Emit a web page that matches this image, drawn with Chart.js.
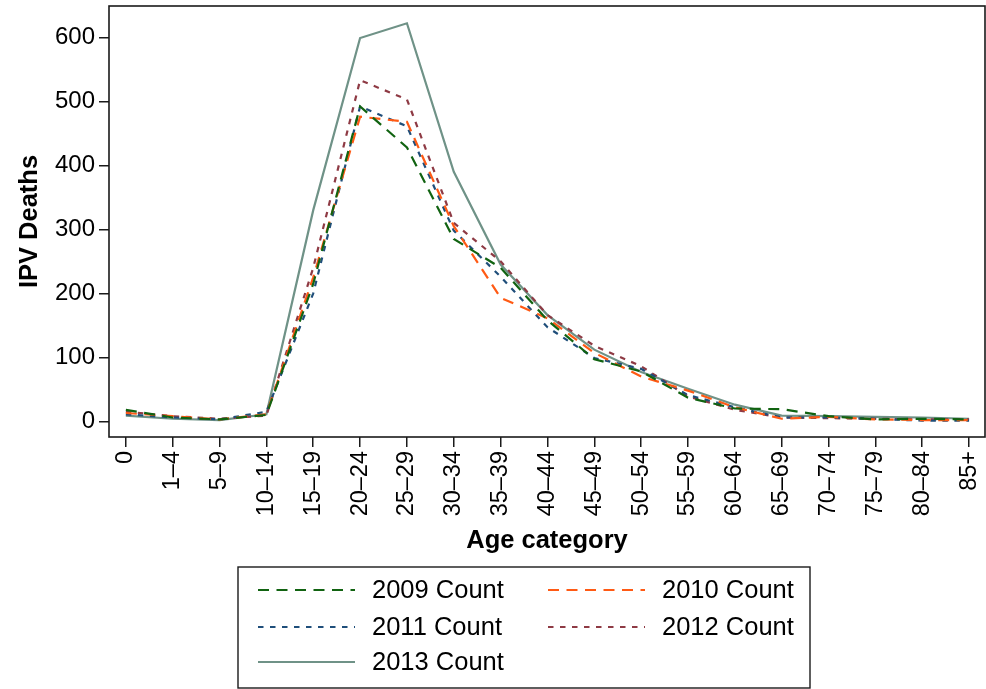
<!DOCTYPE html>
<html>
<head>
<meta charset="utf-8">
<title>IPV Deaths by Age category</title>
<script src="https://cdn.jsdelivr.net/npm/chart.js@4.4.1/dist/chart.umd.min.js"></script>
<style>
  html, body { margin: 0; padding: 0; background: #ffffff; }
  #wrap { width: 986px; height: 689px; position: relative; }
</style>
</head>
<body>
<div id="wrap"><canvas id="chart" width="986" height="689"></canvas></div>
<script>
// Age groups along the horizontal axis
const ageCategories = ["0", "1–4", "5–9", "10–14", "15–19", "20–24", "25–29", "30–34",
  "35–39", "40–44", "45–49", "50–54", "55–59", "60–64", "65–69", "70–74", "75–79", "80–84", "85+"];

// IPV deaths per age group, one array per year
const count2009 = [18, 6, 3, 10, 215, 492, 428, 285, 240, 158, 97, 78, 37, 20, 19, 8, 3, 4, 3];
const count2010 = [13, 8, 3, 11, 225, 476, 468, 305, 193, 161, 107, 70, 48, 22, 4, 7, 3, 2, 2];
const count2011 = [11, 6, 3, 15, 200, 492, 461, 298, 226, 147, 99, 82, 41, 22, 6, 6, 4, 1, 1];
const count2012 = [15, 8, 4, 9, 240, 533, 503, 310, 250, 166, 118, 86, 39, 18, 6, 5, 4, 3, 3];
const count2013 = [9, 4, 2, 11, 330, 599, 622, 390, 245, 166, 112, 77, 51, 26, 9, 8, 7, 6, 4];

// Value axis tick labels
const yTickValues = [0, 100, 200, 300, 400, 500, 600];

const FONT = "'Liberation Sans', Arial, Helvetica, sans-serif";

function series(label, values, color, dash) {
  return {
    label: label,
    data: values.map((v, i) => ({ x: i, y: v })),
    borderColor: color,
    backgroundColor: color,
    borderWidth: 2.2,
    borderDash: dash,
    pointRadius: 0,
    pointHoverRadius: 0,
    tension: 0,
    fill: false
  };
}

const datasets = [
  series("2009 Count", count2009, "#116311", [11, 7.5]),
  series("2010 Count", count2010, "#ff5a14", [11, 7.5]),
  series("2011 Count", count2011, "#1f4e7a", [5.5, 6.5]),
  series("2012 Count", count2012, "#8e3a44", [5.5, 6.5]),
  series("2013 Count", count2013, "#6f9287", [])
];

// Axis labels may overhang the plot edges without shrinking the plot
function noOverhang(scale) {
  scale.paddingLeft = 0;
  scale.paddingRight = 0;
  scale.paddingTop = 0;
  scale.paddingBottom = 0;
}

// Full box around the plotting region
const frame = {
  id: "frame",
  afterDatasetsDraw(chart) {
    const { ctx, chartArea: a } = chart;
    ctx.save();
    ctx.strokeStyle = "#1a1a1a";
    ctx.lineWidth = 1.6;
    ctx.strokeRect(a.left, a.top, a.right - a.left, a.bottom - a.top);
    ctx.restore();
  }
};

// Two-column boxed key below the axis title
const boxedKey = {
  id: "boxedKey",
  afterDraw(chart) {
    const { ctx } = chart;
    const box = { x: 238, y: 567, w: 572, h: 121 };
    const rows = [590, 627, 662];
    const cols = [{ line: 258, text: 372 }, { line: 548, text: 662 }];
    const lineLen = 97;
    ctx.save();
    ctx.strokeStyle = "#1a1a1a";
    ctx.lineWidth = 1.4;
    ctx.strokeRect(box.x, box.y, box.w, box.h);
    ctx.font = "25.5px " + FONT;
    ctx.fillStyle = "#000";
    ctx.textBaseline = "middle";
    chart.data.datasets.forEach((ds, i) => {
      const r = rows[Math.floor(i / 2)];
      const c = cols[i % 2];
      ctx.beginPath();
      ctx.strokeStyle = ds.borderColor;
      ctx.lineWidth = ds.borderWidth;
      ctx.setLineDash(ds.borderDash || []);
      ctx.moveTo(c.line, r);
      ctx.lineTo(c.line + lineLen, r);
      ctx.stroke();
      ctx.setLineDash([]);
      ctx.fillText(ds.label, c.text, r + 1);
    });
    ctx.restore();
  }
};

new Chart(document.getElementById("chart"), {
  type: "line",
  data: { datasets: datasets },
  plugins: [frame, boxedKey],
  options: {
    responsive: false,
    devicePixelRatio: 1,
    animation: false,
    layout: { padding: { top: 6, right: 1, bottom: 133, left: 0 } },
    plugins: {
      legend: { display: false },
      tooltip: { enabled: false }
    },
    scales: {
      x: {
        type: "linear",
        min: -0.36,
        max: 18.34,
        afterFit(scale) { scale.height = 119; noOverhang(scale); },
        afterBuildTicks(scale) {
          scale.ticks = ageCategories.map((_, i) => ({ value: i }));
        },
        ticks: {
          autoSkip: false,
          minRotation: 90,
          maxRotation: 90,
          padding: 4,
          color: "#000",
          font: { family: FONT, size: 23.5 },
          callback: (v) => ageCategories[v]
        },
        grid: {
          display: true,
          drawOnChartArea: false,
          drawTicks: true,
          tickLength: 10,
          color: "#1a1a1a",
          lineWidth: 1.5
        },
        border: { display: false },
        title: {
          display: true,
          text: "Age category",
          color: "#000",
          font: { family: FONT, size: 25.5, weight: "bold" },
          padding: { top: 0, bottom: 0 }
        }
      },
      y: {
        type: "linear",
        min: -24.5,
        max: 649,
        afterFit(scale) { scale.width = 109; noOverhang(scale); },
        afterBuildTicks(scale) {
          scale.ticks = yTickValues.map((v) => ({ value: v }));
        },
        ticks: {
          padding: 4,
          color: "#000",
          font: { family: FONT, size: 24 }
        },
        grid: {
          display: true,
          drawOnChartArea: false,
          drawTicks: true,
          tickLength: 10,
          color: "#1a1a1a",
          lineWidth: 1.5
        },
        border: { display: false },
        title: {
          display: true,
          text: "IPV Deaths",
          color: "#000",
          font: { family: FONT, size: 25.5, weight: "bold" },
          padding: { top: 15, bottom: 0 }
        }
      }
    }
  }
});
</script>
</body>
</html>
